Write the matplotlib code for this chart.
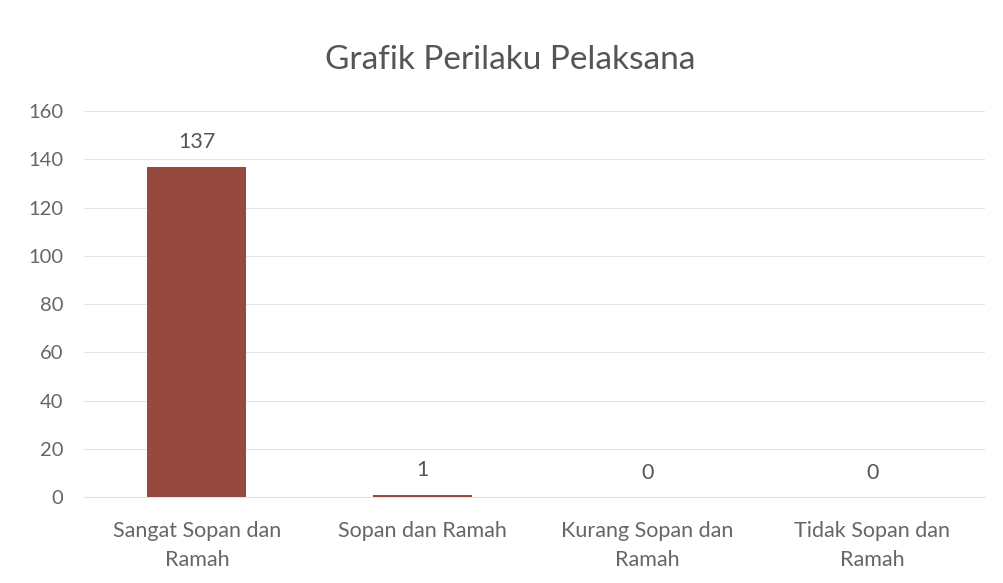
import matplotlib.pyplot as plt

plt.rcParams['font.family'] = ['Lato', 'DejaVu Sans']

categories = ["Sangat Sopan dan\nRamah", "Sopan dan Ramah",
              "Kurang Sopan dan\nRamah", "Tidak Sopan dan\nRamah"]
values = [137, 1, 0, 0]
yticks = [0, 20, 40, 60, 80, 100, 120, 140, 160]

txt = '#666666'

fig = plt.figure(figsize=(10.04, 5.83), dpi=100)
ax = fig.add_axes([0.084, 0.1475, 0.897, 0.662])

x = range(len(categories))
bars = ax.bar(x, values, width=0.44, color='#96493e', zorder=3)
for b, v in zip(bars, values):
    ax.text(b.get_x() + b.get_width() / 2, v + 6, str(v),
            ha='center', va='bottom', fontsize=15.5, color='#555555')

ax.set_xlim(-0.5, len(categories) - 0.5)
ax.set_ylim(0, 160)
ax.set_yticks(yticks)
ax.set_xticks(list(x))
ax.set_xticklabels(categories, fontsize=15.5, color=txt, linespacing=1.6)
ax.tick_params(axis='y', labelsize=14.5, labelcolor=txt, length=0, pad=15)
ax.tick_params(axis='x', length=0, pad=17)
ax.grid(axis='y', color='#e3e3e3', linewidth=0.8, zorder=0)
for s in ['top', 'right', 'left']:
    ax.spines[s].set_visible(False)
ax.spines['bottom'].set_color('#e3e3e3')

fig.text(0.508, 0.897, "Grafik Perilaku Pelaksana", ha='center', va='center',
         fontsize=24, color='#555555')

fig.savefig('out.png', dpi=100, facecolor='white')
